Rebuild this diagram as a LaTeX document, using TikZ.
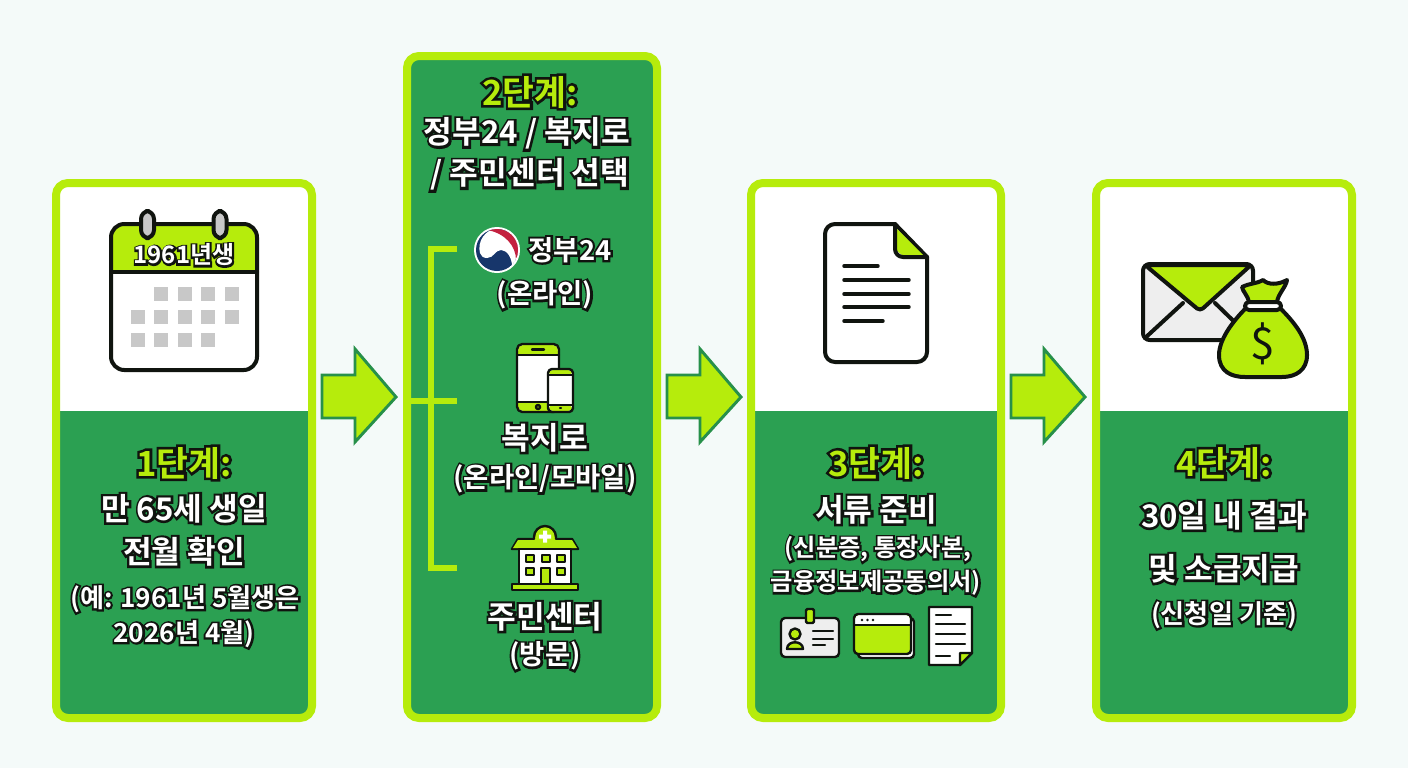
\documentclass[tikz,border=0pt]{standalone}
\usepackage{fontspec}
\setmainfont{Noto Sans CJK KR}[BoldFont={* Bold}]
\usetikzlibrary{calc}
\definecolor{bgc}{HTML}{F4FAF9}
\definecolor{lime}{HTML}{B6EC0C}
\definecolor{grn}{HTML}{2BA052}
\definecolor{ink}{HTML}{10140F}
\definecolor{gry}{HTML}{C8C8C8}
\definecolor{lgry}{HTML}{EEEEEE}
\definecolor{navy}{HTML}{17366B}
\definecolor{redk}{HTML}{C4213F}
\newcommand{\olt}[3][15]{\rlap{\color{ink}\addfontfeature{FakeBold=#1}#3}{\color{#2}#3}}
\tikzset{
  x=0.75pt,y=-0.75pt,
  panel/.style={draw=lime,line width=6pt,rounded corners=9pt},
  tx/.style={inner sep=0pt,anchor=center},
  ttl/.style={tx,font=\fontsize{26}{26}\selectfont\bfseries},
  bigt/.style={tx,yshift=-1.2pt,font=\fontsize{23.4}{24}\selectfont\bfseries},
  midt/.style={tx,yshift=-1.5pt,font=\fontsize{20.6}{21}\selectfont\bfseries},
  smlt/.style={tx,yshift=-0.8pt,font=\fontsize{19.6}{20}\selectfont\bfseries},
  tinyt/.style={tx,yshift=-0.8pt,font=\fontsize{18.2}{18.5}\selectfont\bfseries},
  ico/.style={draw=ink,line width=3pt,line join=round,line cap=round},
  thin ico/.style={draw=ink,line width=1.8pt,line join=round,line cap=round},
  bracket/.style={draw=lime,line width=5.2pt},
  flow/.style={fill=lime,draw=grn!90!black,line width=2.2pt,line join=miter},
}
\newcommand{\flowarrow}[1]{\draw[flow] (#1) ++(-37,-22) -- ++(33,0) -- ++(0,-26) -- ++(41,48) -- ++(-41,45) -- ++(0,-24) -- ++(-33,0) -- cycle;}
\begin{document}
\begin{tikzpicture}
\useasboundingbox (0,0) rectangle (1408,768);
\fill[bgc] (0,0) rectangle (1408,768);

% panels
\foreach \a/\b in {56/312,751/1001,1096/1352}{
  \fill[white,rounded corners=9pt] (\a,183) rectangle (\b,718);
  \fill[grn,rounded corners=9pt] (\a,411) rectangle (\b,718);
  \fill[grn] (\a,411) rectangle (\b,430);
  \draw[panel] (\a,183) rectangle (\b,718);
}
\fill[grn,rounded corners=9pt] (407,56) rectangle (657,718);
\draw[panel] (407,56) rectangle (657,718);

% arrows
\coordinate (a1) at (359,397);
\coordinate (a2) at (704,397);
\coordinate (a3) at (1048,397);
\flowarrow{a1}\flowarrow{a2}\flowarrow{a3}

% panel 1 calendar
\fill[white,rounded corners=10pt] (111,224) rectangle (257,370);
\fill[lime,rounded corners=10pt] (112,225) rectangle (256,271);
\fill[lime] (112,250) rectangle (256,271);
\draw[ico,rounded corners=10pt] (111,224) rectangle (257,370);
\draw[ico] (111,272) -- (257,272);
\foreach \x in {147.5,220}{
  \draw[ico,fill=gry,rounded corners=6pt] (\x-6.5,211) rectangle (\x+6.5,238);
}
\foreach \x/\y in {154/287,178/287,201/287,225/287,131/310,154/310,178/310,201/310,225/310,131/333,154/333,178/333,201/333}{
  \fill[gry] (\x,\y) rectangle (\x+13.5,\y+13.5);
}
\node[tx,font=\fontsize{18}{18}\selectfont\bfseries] (cal) at (184,255) {\olt{white}{1961년생}};

% panel 1 text
\node[ttl] (t1a) at (184,463) {\olt{lime}{1단계:}};
\node[bigt] (t1b) at (184,507) {\olt{white}{만 65세 생일}};
\node[bigt] (t1c) at (184,550) {\olt{white}{전월 확인}};
\node[smlt] (t1d) at (185,598) {\olt{white}{(예: 1961년 5월생은}};
\node[smlt] (t1e) at (184,633) {\olt{white}{2026년 4월)}};

% panel 2 text
\node[ttl] (t2a) at (530,92) {\olt{lime}{2단계:}};
\node[bigt] (t2b) at (527,132) {\olt{white}{정부24 / 복지로}};
\node[bigt] (t2c) at (530,173) {\olt{white}{/ 주민센터 선택}};
\node[midt,yshift=1.5pt] (t2d) at (570,250) {\olt{white}{정부24}};
\node[midt] (t2e) at (545,293) {\olt{white}{(온라인)}};
\node[bigt] (t2f) at (545,436) {\olt{white}{복지로}};
\node[midt] (t2g) at (545,477) {\olt{white}{(온라인/모바일)}};
\node[bigt] (t2h) at (545,615) {\olt{white}{주민센터}};
\node[midt] (t2i) at (545,654) {\olt{white}{(방문)}};

% bracket
\draw[bracket] (457,249) -- (431,249) -- (431,568) -- (457,568);
\draw[bracket] (407,401) -- (457,401);

% taegeuk
\fill[white] (497,250) circle (23);
\begin{scope}
\clip (497,250) circle (21);
\fill[navy] (497,250) circle (21);
\begin{scope}[shift={(497,250)}]
\fill[white] (-17,3) .. controls (-20,-8) and (-12,-21) .. (0,-21) -- (24,-14) -- (24,16) -- (15,16) .. controls (15,8) and (10,0) .. (4,0) .. controls (-2,0) and (-3,8) .. (-10,8) .. controls (-14,8) and (-16,6) .. (-17,3) -- cycle;
\fill[redk] (-10,-20) -- (10,-24) -- (26,-6) -- (19,10) .. controls (19,-4) and (8,-17) .. (-10,-20) -- cycle;
\end{scope}
\end{scope}

% phones
\fill[white,rounded corners=4pt] (517,344) rectangle (559,412);
\fill[lime,rounded corners=4pt] (518,345) rectangle (558,355);
\fill[lime] (518,351) rectangle (558,355);
\fill[lime,rounded corners=4pt] (518,411) rectangle (558,402);
\fill[lime] (518,402) rectangle (558,406);
\draw[thin ico,rounded corners=4pt] (517,344) rectangle (559,412);
\draw[thin ico] (517,355) -- (559,355) (517,402) -- (559,402) (532,349.5) -- (544,349.5);
\draw[thin ico] (538,407) circle (2);
\fill[white,rounded corners=3pt] (548,369) rectangle (573,412);
\fill[lime,rounded corners=3pt] (549,370) rectangle (572,375);
\fill[lime,rounded corners=3pt] (549,405) rectangle (572,411);
\draw[thin ico,rounded corners=3pt] (548,369) rectangle (573,412);
\draw[thin ico] (548,375) -- (573,375) (548,405) -- (573,405) (560,408) -- (561,408);

% building
\draw[thin ico,fill=lime] (534,549) -- (534,537) arc (180:360:11) -- (556,549) -- cycle;
\draw[thin ico,fill=lime] (518,539) -- (534,539) (556,539) -- (572,539) -- (578,549) -- (512,549) -- (518,539);
\fill[lime] (518,540) -- (572,540) -- (577,548) -- (513,548) -- cycle;
\fill[white] (543,530.5) rectangle (547,542.5) (539,534.5) rectangle (551,538.5);
\draw[thin ico,fill=white] (519,549) rectangle (571,584);
\foreach \x in {526,542,557}{\draw[ico,line width=1.1pt,fill=lime] (\x,555) rectangle (\x+8,562);}
\foreach \x in {526,557}{\draw[ico,line width=1.1pt,fill=lime] (\x,568) rectangle (\x+8,575);}
\draw[ico,line width=1.1pt,fill=lime] (541,568) rectangle (550,584);
\draw[thin ico,fill=lime] (512,584) rectangle (578,590);

% panel 3 document
\draw[ico,fill=white] (835,224) -- (895,224) -- (927,257) -- (927,352) arc (0:90:10) -- (835,362) arc (90:180:10) -- (825,234) arc (180:270:10) -- cycle;
\fill[lime] (896,228) -- (924,256) -- (903,256) -- (896,250) -- cycle;
\draw[ico,rounded corners=6pt] (895,224) -- (895,257) -- (927,257);
\draw[ico,line width=2.6pt] (844,266) -- (878,266) (844,280) -- (909,280) (844,294) -- (909,294) (844,307) -- (909,307) (844,321) -- (883,321);

% panel 3 text
\node[ttl] (t3a) at (876,463) {\olt{lime}{3단계:}};
\node[bigt] (t3b) at (876,508) {\olt{white}{서류 준비}};
\node[tinyt] (t3c) at (878,548) {\olt{white}{(신분증, 통장사본,}};
\node[tinyt] (t3d) at (876,582) {\olt{white}{금융정보제공동의서)}};

% id card
\draw[thin ico,fill=lgry,rounded corners=3pt] (781,618) rectangle (839,657);
\draw[thin ico,fill=lime,rounded corners=1pt] (806,609) rectangle (814,623);
\draw[thin ico,fill=lime] (795,634) circle (5.5);
\draw[thin ico,fill=lime] (787,649) .. controls (787,640) and (803,640) .. (803,649) -- cycle;
\draw[thin ico] (813,631) -- (833,631) (813,639) -- (833,639) (813,645) -- (825,645);

% window cards
\draw[thin ico,fill=white,rounded corners=3pt] (858,618) rectangle (914,658);
\fill[lime,rounded corners=3pt] (854,614) rectangle (911,654);
\fill[white,rounded corners=3pt] (855,615) rectangle (910,625);
\fill[white] (855,620) rectangle (910,625);
\draw[thin ico,rounded corners=3pt] (854,614) rectangle (911,654);
\draw[thin ico] (854,625) -- (911,625);
\foreach \x in {862,867.5,873}{\fill[ink] (\x,620) circle (1.4);}

% page
\draw[thin ico,fill=white] (929,607) -- (972,607) -- (972,653) -- (960,665) -- (929,665) -- cycle;
\draw[thin ico,fill=lime] (960,665) -- (960,653) -- (972,653) -- cycle;
\draw[thin ico] (936,615) -- (951,615) (936,624) -- (965,624) (936,634) -- (965,634) (936,644) -- (965,644) (936,656) -- (950,656);

% envelope + bag
\draw[ico,fill=lgry,rounded corners=5pt] (1143,264) rectangle (1253,340);
\draw[ico] (1145,338) -- (1183,303) (1251,338) -- (1215,303);
\draw[ico,fill=lime,rounded corners=3pt] (1145,265) -- (1251,265) -- (1200,311) -- cycle;
\draw[ico,fill=lime] (1246,308) .. controls (1232,322) and (1219,340) .. (1219,355) .. controls (1219,372) and (1232,377) .. (1245,377) -- (1282,377) .. controls (1296,377) and (1307,370) .. (1307,355) .. controls (1307,338) and (1294,322) .. (1280,308) -- cycle;
\draw[ico,fill=lime] (1249,302) .. controls (1248,296) and (1243,292) .. (1242,287) .. controls (1250,283) and (1256,284) .. (1263,280) .. controls (1268,285) and (1278,285) .. (1287,280) .. controls (1286,287) and (1278,294) .. (1277,302) -- cycle;
\draw[ico,fill=white,rounded corners=3pt] (1245,302) rectangle (1281,310);
\node[tx,font=\fontsize{33}{33}\selectfont,text=ink] (dollar) at (1263,344) {\$};

% panel 4 text
\node[ttl] (t4a) at (1224,463) {\olt{lime}{4단계:}};
\node[bigt] (t4b) at (1224,514) {\olt{white}{30일 내 결과}};
\node[bigt] (t4c) at (1224,567) {\olt{white}{및 소급지급}};
\node[smlt] (t4d) at (1224,614) {\olt{white}{(신청일 기준)}};
\end{tikzpicture}
\end{document}
